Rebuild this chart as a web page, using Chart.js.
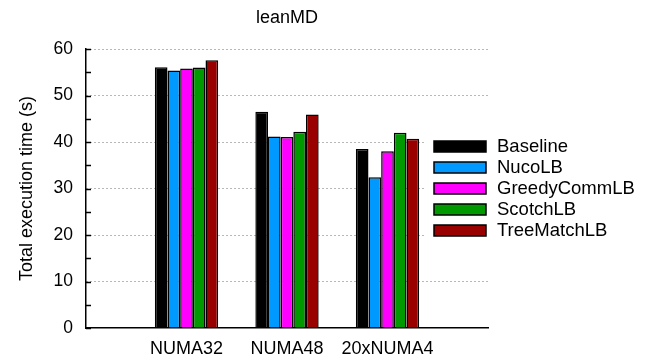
<!DOCTYPE html>
<html>
<head>
<meta charset="utf-8">
<script src="https://cdn.jsdelivr.net/npm/chart.js@4/dist/chart.umd.min.js"></script>
<style>
  body { margin: 0; background: #fff; }
  #wrap { width: 649px; height: 362px; }
</style>
</head>
<body>
<div id="wrap"><canvas id="myChart" width="649" height="362"></canvas></div>
<script>
const FONT = "'Liberation Sans', Arial, sans-serif";

// data
const machines = ["", "NUMA32", "NUMA48", "20xNUMA4", ""];
const seriesNames = ["Baseline", "NucoLB", "GreedyCommLB", "ScotchLB", "TreeMatchLB"];
const seriesColors = ["#000000", "#0099ff", "#ff00ff", "#009900", "#990000"];
const baseline = [null, 56.1, 46.5, 38.5, null];
const nucoLB = [null, 55.4, 41.2, 32.4, null];
const greedyCommLB = [null, 55.8, 41.1, 38.0, null];
const scotchLB = [null, 56.0, 42.2, 42.0, null];
const treeMatchLB = [null, 57.6, 45.9, 40.7, null];
const yTicks = [0, 10, 20, 30, 40, 50, 60];
const chartTitle = "leanMD";

const allSeries = [baseline, nucoLB, greedyCommLB, scotchLB, treeMatchLB];

const chartCanvas = document.getElementById("myChart");

// title over the plot, small inward ticks on the y axis, legend box on the right
const extrasPlugin = {
  id: "extras",
  afterDraw(chart) {
    const ctx = chart.ctx;
    const y = chart.scales.y;
    const area = chart.chartArea;
    ctx.save();

    ctx.fillStyle = "#000";
    ctx.font = "18px " + FONT;
    ctx.textAlign = "center";
    ctx.textBaseline = "middle";
    ctx.fillText(chartTitle, (area.left + area.right) / 2, 18);

    ctx.strokeStyle = "#000";
    ctx.lineWidth = 1.5;
    for (let v = 0; v <= 60; v += 5) {
      const py = Math.round(y.getPixelForValue(v)) + 0.5;
      ctx.beginPath();
      ctx.moveTo(area.left, py);
      ctx.lineTo(area.left + 5, py);
      ctx.stroke();
    }

    // legend
    const lx = 434, tx = 497, top = 146.5, step = 21;
    ctx.fillStyle = "#fff";
    ctx.fillRect(425, 134, 649 - 425, 108);
    chart.data.datasets.forEach((ds, i) => {
      const cy = top + i * step;
      ctx.fillStyle = ds.backgroundColor;
      ctx.fillRect(lx, cy - 5.5, 52, 11);
      ctx.strokeStyle = "#000";
      ctx.lineWidth = 1.5;
      ctx.strokeRect(lx, cy - 5.5, 52, 11);
      ctx.fillStyle = "#000";
      ctx.font = "18.5px " + FONT;
      ctx.textBaseline = "middle";
      ctx.textAlign = "left";
      ctx.fillText(ds.label, tx, cy + 0.5);
    });
    ctx.restore();
  },
};

const myChart = new Chart(chartCanvas, {
  type: "bar",
  data: {
    labels: machines,
    datasets: seriesNames.map((name, i) => ({
      label: name,
      data: allSeries[i],
      backgroundColor: seriesColors[i],
      borderColor: "#000",
      borderWidth: 1.5,
      borderSkipped: "bottom",
      categoryPercentage: 0.63,
      barPercentage: 1.0,
    })),
  },
  options: {
    responsive: false,
    animation: false,
    devicePixelRatio: 1,
    layout: { padding: { left: 0, right: 161, top: 49, bottom: 0 } },
    plugins: {
      legend: { display: false },
      tooltip: { enabled: false },
      title: { display: false },
    },
    scales: {
      x: {
        type: "category",
        offset: false,
        grid: { display: false, drawTicks: false },
        border: { display: true, color: "#000", width: 1.5 },
        ticks: {
          color: "#000",
          font: { family: FONT, size: 18 },
          padding: 10,
          autoSkip: false,
          maxRotation: 0,
        },
        afterFit(scale) {
          scale.height = 34;
        },
      },
      y: {
        min: 0,
        max: 60,
        afterBuildTicks(scale) {
          scale.ticks = yTicks.map((v) => ({ value: v }));
        },
        grid: {
          drawTicks: false,
          color: (c) => (c.tick && c.tick.value === 0 ? "rgba(0,0,0,0)" : "#707070"),
          lineWidth: 1,
        },
        border: { display: true, color: "#000", width: 1.5, dash: [1, 3] },
        ticks: {
          color: "#000",
          font: { family: FONT, size: 17.5 },
          padding: 13,
        },
        title: {
          display: true,
          text: "Total execution time (s)",
          color: "#000",
          font: { family: FONT, size: 18 },
          padding: { top: 16, bottom: 0 },
        },
        afterFit(scale) {
          scale.width = 86;
        },
      },
    },
  },
  plugins: [extrasPlugin],
});
</script>
</body>
</html>
